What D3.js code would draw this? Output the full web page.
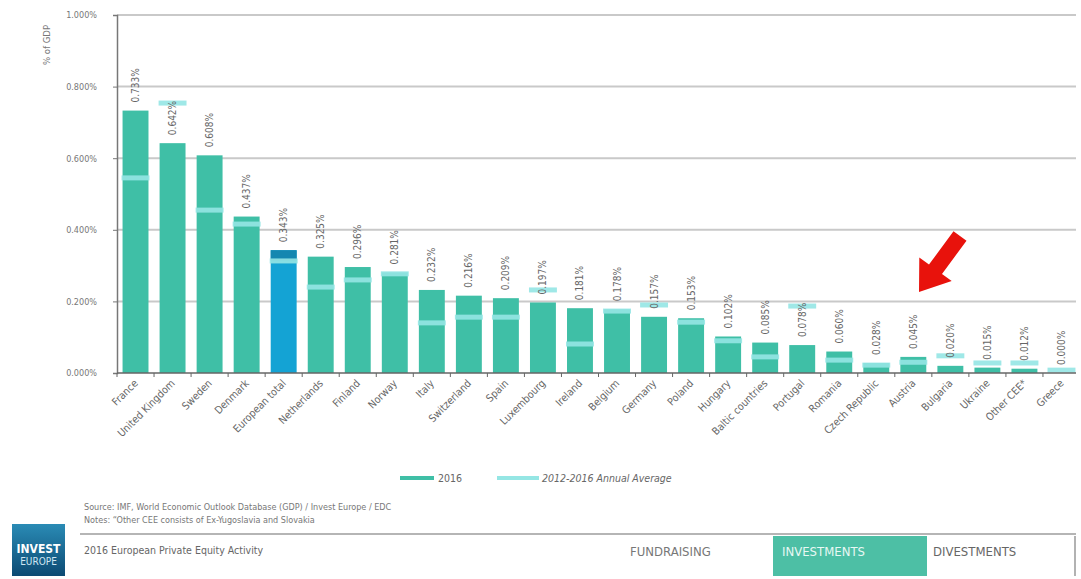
<!DOCTYPE html>
<html><head><meta charset="utf-8">
<script src="https://cdn.jsdelivr.net/npm/d3@7"></script>
<style>
body{margin:0;background:#fff;}
svg{display:block;}
text{font-family:"Liberation Sans Narrow","DejaVu Sans Condensed","Liberation Sans",sans-serif;}
</style></head><body>
<svg id="c" width="1081" height="579"></svg>
<script>
const categories = ["France","United Kingdom","Sweden","Denmark","European total","Netherlands","Finland","Norway","Italy","Switzerland","Spain","Luxembourg","Ireland","Belgium","Germany","Poland","Hungary","Baltic countries","Portugal","Romania","Czech Republic","Austria","Bulgaria","Ukraine","Other CEE*","Greece"];
const values2016 = [0.733,0.642,0.608,0.437,0.343,0.325,0.296,0.281,0.232,0.216,0.209,0.197,0.181,0.178,0.157,0.153,0.102,0.085,0.078,0.060,0.028,0.045,0.020,0.015,0.012,0.000];
const valuesAvg = [0.545,0.754,0.455,0.416,0.313,0.240,0.260,0.277,0.140,0.156,0.156,0.232,0.081,0.173,0.190,0.142,0.090,0.045,0.187,0.036,0.022,0.030,0.048,0.028,0.028,0.008];
const yTicks = [0,0.2,0.4,0.6,0.8,1.0];
const legendLabels = ["2016","2012-2016 Annual Average"];
const highlight = "European total";

const svg = d3.select("#c");
const x = d3.scaleBand().domain(categories).range([117,1080]).paddingInner(0.3).paddingOuter(0.15);
const y = d3.scaleLinear().domain([0,1]).range([373,15]);
const fmt = v => v.toFixed(3) + "%";

const teal = "#3fbfa6", blue = "#14a3d4", blueDark = "#1587b0", cyan = "#95e6e4";

// gridlines
svg.append("g").selectAll("line").data(yTicks.filter(d=>d>0)).join("line")
  .attr("x1",117).attr("x2",1076).attr("y1",d=>y(d)).attr("y2",d=>y(d))
  .attr("stroke","#c9c9c9").attr("stroke-width",2);

// y axis
const yAxis = svg.append("g").attr("transform","translate(117,0)")
  .call(d3.axisLeft(y).tickValues(yTicks).tickFormat(d=>d3.format(".3f")(d)+"%").tickSize(4).tickPadding(16));
yAxis.select(".domain").attr("stroke","#777").attr("stroke-width",1.5);
yAxis.selectAll(".tick line").attr("stroke","#777");
yAxis.selectAll("text").attr("fill","#777").style("font-size","9px");

svg.append("text").attr("transform","translate(50,45) rotate(-90)").attr("text-anchor","middle")
  .attr("fill","#777").style("font-size","9.5px").text("% of GDP");

// bars
const bw = x.bandwidth();
svg.append("g").selectAll("rect").data(categories).join("rect")
  .attr("x",d=>x(d)).attr("width",bw)
  .attr("y",(d,i)=>y(values2016[i])).attr("height",(d,i)=>y(0)-y(values2016[i]))
  .attr("fill",d=>d===highlight?blue:teal);

// darker cap on highlight bar between 2016 top and average
categories.forEach((d,i)=>{
  if(d===highlight && values2016[i]>valuesAvg[i]){
    svg.append("rect").attr("x",x(d)).attr("width",bw)
      .attr("y",y(values2016[i])).attr("height",y(valuesAvg[i])-y(values2016[i]))
      .attr("fill",blueDark);
  }
});

// average markers
svg.append("g").selectAll("rect").data(categories).join("rect")
  .attr("x",d=>x(d)-1).attr("width",bw+2)
  .attr("y",(d,i)=>y(valuesAvg[i])-2.5).attr("height",5)
  .attr("fill",cyan).attr("opacity",0.9);

// value labels
svg.append("g").selectAll("text").data(categories).join("text")
  .attr("transform",(d,i)=>`translate(${x(d)+bw/2+3.5},${y(Math.max(values2016[i],0))-8}) rotate(-90)`)
  .attr("text-anchor","start").attr("fill","#666").style("font-size","10px")
  .text((d,i)=>fmt(values2016[i]));

// x axis
svg.append("line").attr("x1",117).attr("x2",1076).attr("y1",373).attr("y2",373).attr("stroke","#666").attr("stroke-width",1.5);
const step = x.step();
svg.append("g").selectAll("line").data(categories).join("line")
  .attr("x1",d=>x(d)-step*0.15).attr("x2",d=>x(d)-step*0.15).attr("y1",373).attr("y2",377)
  .attr("stroke","#666");
svg.append("g").selectAll("text").data(categories).join("text")
  .attr("transform",d=>`translate(${x(d)+bw/2+3},${384}) rotate(-45)`)
  .attr("text-anchor","end").attr("fill","#666").style("font-size","10.5px")
  .text(d=>d);

// legend
const lg = svg.append("g");
lg.append("line").attr("x1",400).attr("x2",434).attr("y1",478).attr("y2",478).attr("stroke",teal).attr("stroke-width",4);
lg.append("text").attr("x",438).attr("y",481.5).attr("fill","#666").style("font-size","10.5px").text(legendLabels[0]);
lg.append("line").attr("x1",497).attr("x2",539).attr("y1",478).attr("y2",478).attr("stroke",cyan).attr("stroke-width",4);
lg.append("text").attr("x",542).attr("y",481.5).attr("fill","#666").style("font-size","10.5px").style("font-style","italic").text(legendLabels[1]);

// red arrow
svg.append("path")
  .attr("d","M966.5,240.7 L942,274 L951.7,281.1 L919,292 L919.3,257.5 L929,264.6 L953.5,231.3 Z")
  .attr("fill","#e8120c");

// footer
svg.append("text").attr("x",84).attr("y",510).attr("fill","#777").style("font-size","9px")
  .text("Source: IMF, World Economic Outlook Database (GDP) / Invest Europe / EDC");
svg.append("text").attr("x",84).attr("y",523).attr("fill","#777").style("font-size","9px")
  .text("Notes: \u201cOther CEE consists of Ex-Yugoslavia and Slovakia");
svg.append("line").attr("x1",80).attr("x2",1076).attr("y1",534).attr("y2",534).attr("stroke","#b5b5b5").attr("stroke-width",2);
svg.append("text").attr("x",84).attr("y",554).attr("fill","#666").style("font-size","10.5px")
  .text("2016 European Private Equity Activity");

// logo
const defs = svg.append("defs");
const gr = defs.append("linearGradient").attr("id","lg1").attr("x1",0).attr("y1",0).attr("x2",0).attr("y2",1);
gr.append("stop").attr("offset","0").attr("stop-color","#2a8bb5");
gr.append("stop").attr("offset","1").attr("stop-color","#0c4a73");
svg.append("rect").attr("x",12).attr("y",524).attr("width",53).attr("height",52).attr("fill","url(#lg1)");
svg.append("text").attr("x",38.5).attr("y",553).attr("text-anchor","middle").attr("fill","#fff").style("font-size","12px").style("font-weight","bold").text("INVEST");
svg.append("text").attr("x",38.5).attr("y",565).attr("text-anchor","middle").attr("fill","#cfe6f2").style("font-size","10px").text("EUROPE");

// nav
svg.append("text").attr("x",630).attr("y",556).attr("fill","#777").style("font-size","13px").text("FUNDRAISING");
svg.append("rect").attr("x",773).attr("y",536).attr("width",154).attr("height",40).attr("fill","#4dbfa5");
svg.append("text").attr("x",782).attr("y",556).attr("fill","#e8f8f4").style("font-size","13px").text("INVESTMENTS");
svg.append("text").attr("x",933).attr("y",556).attr("fill","#666").style("font-size","13px").text("DIVESTMENTS");
svg.append("line").attr("x1",1075).attr("x2",1075).attr("y1",536).attr("y2",576).attr("stroke","#999").attr("stroke-width",1.5);
</script>
</body></html>
